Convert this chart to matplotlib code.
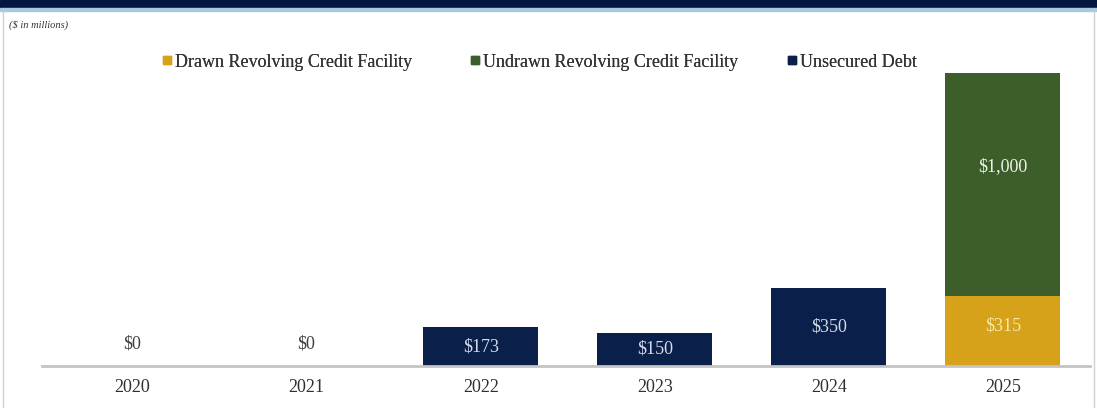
import numpy as np
import matplotlib.pyplot as plt
from matplotlib.lines import Line2D

years = ["2020", "2021", "2022", "2023", "2024", "2025"]
drawn_rcf = [0, 0, 0, 0, 0, 315]
undrawn_rcf = [0, 0, 0, 0, 0, 1000]
unsecured = [0, 0, 173, 150, 350, 0]
series_names = ["Drawn Revolving Credit Facility", "Undrawn Revolving Credit Facility", "Unsecured Debt"]

navy = "#0b1f4b"
green = "#3b5e2b"
gold = "#d5a21a"

plt.rcParams['font.family'] = ['Liberation Serif', 'DejaVu Serif']

fig = plt.figure(figsize=(10.97, 4.08), dpi=100)
ax = fig.add_axes([0.0383, 0.1029, 0.9553, 0.80])

x = np.arange(len(years))
w = 0.66
ax.bar(x, unsecured, w, color=navy)
ax.bar(x, drawn_rcf, w, color=gold)
ax.bar(x, undrawn_rcf, w, bottom=drawn_rcf, color=green)

# etiquettes des barres
for i in range(len(years)):
    if unsecured[i] > 0:
        ax.text(x[i], unsecured[i] / 2, f"${unsecured[i]:,}", ha='center', va='center',
                color="#d3dcec", fontsize=13)
    if drawn_rcf[i] > 0:
        ax.text(x[i], drawn_rcf[i] / 2 + 20, f"${drawn_rcf[i]:,}", ha='center', va='center',
                color="#f6e8a8", fontsize=13)
        ax.text(x[i], drawn_rcf[i] + undrawn_rcf[i] / 2 + 80, f"${undrawn_rcf[i]:,}", ha='center',
                va='center', color="#eef2e8", fontsize=13)
    if unsecured[i] == 0 and drawn_rcf[i] == 0:
        ax.text(x[i], 100, "$0", ha='center', va='center', color="#404040", fontsize=13)

ax.set_xlim(-0.52, 5.5)
ax.set_ylim(0, 1466)
ax.set_xticks(x)
ax.set_xticklabels(years, fontsize=13, color="#303030")
ax.tick_params(axis='x', length=0, pad=9)
ax.set_yticks([])
for s in ["top", "right", "left"]:
    ax.spines[s].set_visible(False)
ax.spines["bottom"].set_color("#c4c4c4")
ax.spines["bottom"].set_linewidth(2)

# légende : une entrée par position
legend_x = [0.132, 0.412, 0.701]
for name, c, lx in zip(series_names, [gold, green, navy], legend_x):
    h = Line2D([], [], marker='s', linestyle='none', markersize=6, color=c)
    fig.add_artist(fig.legend([h], [name], loc='center left', bbox_to_anchor=(lx, 0.848),
                              frameon=False, fontsize=13, handletextpad=0.1,
                              handlelength=0.7, labelcolor="#333333"))

# bandeau du haut et note
fig.patches.append(plt.Rectangle((0, 0.98), 1, 0.02, transform=fig.transFigure,
                                 color="#041540", zorder=0))
fig.patches.append(plt.Rectangle((0, 0.974), 1, 0.006, transform=fig.transFigure,
                                 color="#a9c8dc", zorder=0))
fig.add_artist(Line2D([0.003, 0.003], [0, 0.974], transform=fig.transFigure,
                      color="#d0d0d0", linewidth=1))
fig.add_artist(Line2D([0.997, 0.997], [0, 0.974], transform=fig.transFigure,
                      color="#d0d0d0", linewidth=1))
fig.text(0.008, 0.938, "($ in millions)", fontsize=7.5, style='italic', color="#333333",
         va='center')

fig.savefig("out.png", dpi=100)
